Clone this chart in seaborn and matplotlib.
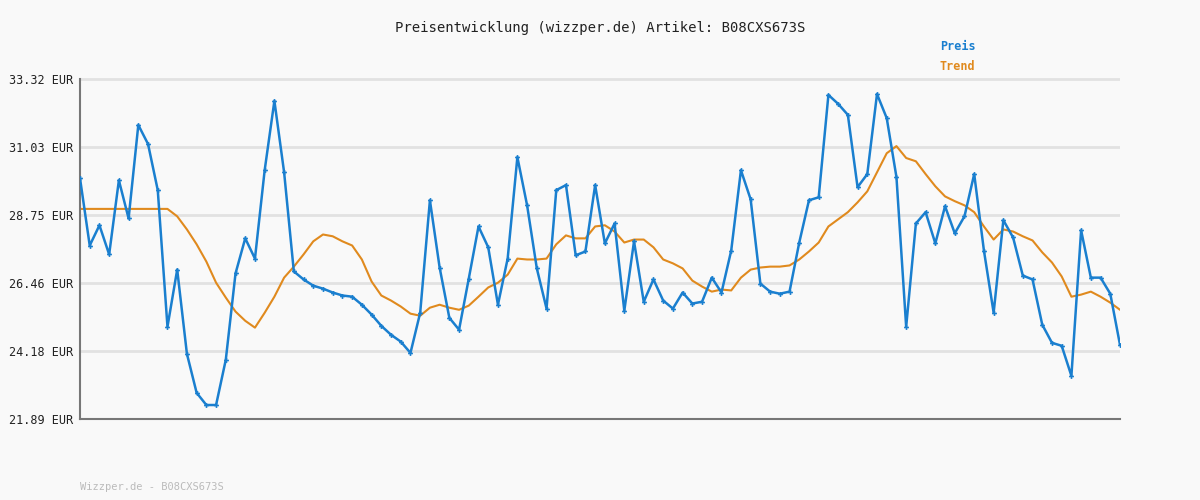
import matplotlib
matplotlib.use("Agg")
import matplotlib.pyplot as plt
import seaborn as sns
import pandas as pd

price = [29.98,27.72,28.40,27.42,29.91,28.63,31.77,31.13,29.58,24.99,26.91,24.08,22.77,22.36,22.36,23.88,26.78,27.96,27.28,30.25,
         32.58,30.18,26.85,26.58,26.37,26.27,26.14,26.04,26.00,25.73,25.40,25.02,24.72,24.49,24.11,25.46,29.24,26.98,25.29,24.89,
         26.61,28.36,27.66,25.73,27.28,30.69,29.07,26.95,25.60,29.58,29.75,27.39,27.52,29.75,27.79,28.46,25.53,27.86,25.83,26.58,
         25.87,25.60,26.14,25.77,25.83,26.64,26.14,27.55,30.25,29.27,26.44,26.17,26.10,26.17,27.82,29.24,29.34,32.78,32.48,32.11,
         29.68,30.12,32.81,32.00,30.02,24.99,28.46,28.84,27.79,29.04,28.13,28.70,30.12,27.55,25.46,28.57,27.99,26.71,26.58,25.06,
         24.45,24.35,23.34,28.23,26.64,26.64,26.10,24.38]
trend = [28.95]*10 + [28.70,28.26,27.76,27.18,26.47,25.97,25.50,25.19,24.96,25.46,26.00,26.64,27.01,27.42,27.86,28.09,28.03,27.86,27.72,27.25,
         26.51,26.04,25.87,25.67,25.43,25.36,25.63,25.73,25.63,25.56,25.70,26.00,26.31,26.47,26.74,27.28,27.25,27.25,27.28,27.76,
         28.06,27.96,27.96,28.36,28.40,28.19,27.82,27.92,27.92,27.66,27.25,27.12,26.95,26.54,26.34,26.17,26.24,26.21,26.64,26.91,
         26.98,27.01,27.01,27.05,27.25,27.52,27.82,28.36,28.60,28.84,29.17,29.54,30.18,30.82,31.06,30.66,30.55,30.12,29.71,29.37,
         29.21,29.07,28.84,28.36,27.92,28.26,28.19,28.03,27.89,27.49,27.15,26.68,26.00,26.07,26.17,26.00,25.80,25.56]
n = min(len(price), len(trend))
price, trend = price[:n], trend[:n]
yticks = [21.89, 24.18, 26.46, 28.75, 31.03, 33.32]
title = "Preisentwicklung (wizzper.de) Artikel: B08CXS673S"
footer = "Wizzper.de - B08CXS673S"

df = pd.DataFrame({"i": range(n), "Preis": price, "Trend": trend})
sns.set_style("white")
plt.rcParams["font.family"] = ["DejaVu Sans Mono"]
bg = "#f9f9f9"
fig = plt.figure(figsize=(12, 5), dpi=100, facecolor=bg)
ax = fig.add_axes([80/1200, 81/500, 1040/1200, 358/500])
ax.set_facecolor(bg)
blue, orange = "#1a7fcf", "#e08a1e"
sns.lineplot(data=df, x="i", y="Preis", ax=ax, color=blue, lw=1.8, marker="P", markersize=3.5, markeredgewidth=0, zorder=3)
sns.lineplot(data=df, x="i", y="Trend", ax=ax, color=orange, lw=1.5, zorder=2)
ax.set_xlim(0, n-1)
ax.set_ylim(21.89, 33.32 + 0.6)
ax.set_yticks(yticks)
ax.set_yticklabels([f"{v:.2f} EUR" for v in yticks], fontsize=8.5, color="#222222")
ax.set_xticks([])
ax.set_xlabel(""); ax.set_ylabel("")
ax.grid(axis="y", color="#e2e2e2", lw=2)
ax.tick_params(axis="y", length=3, pad=2, color="#888888")
for s in ["top", "right"]:
    ax.spines[s].set_visible(False)
for s in ["left", "bottom"]:
    ax.spines[s].set_color("#777777"); ax.spines[s].set_linewidth(1.5)
ax.spines["left"].set_bounds(21.89, 33.32)
fig.text(0.5, 1-28/500, title, ha="center", va="center", fontsize=10, color="#222222")
fig.text(940/1200, 1-46/500, "Preis", ha="left", va="center", fontsize=8.5, color=blue, fontweight="bold")
fig.text(940/1200, 1-67/500, "Trend", ha="left", va="center", fontsize=8.5, color=orange, fontweight="bold")
fig.text(80/1200, 1-487/500, footer, ha="left", va="center", fontsize=7.5, color="#bbbbbb")
fig.savefig("out.png", dpi=100, facecolor=bg)
